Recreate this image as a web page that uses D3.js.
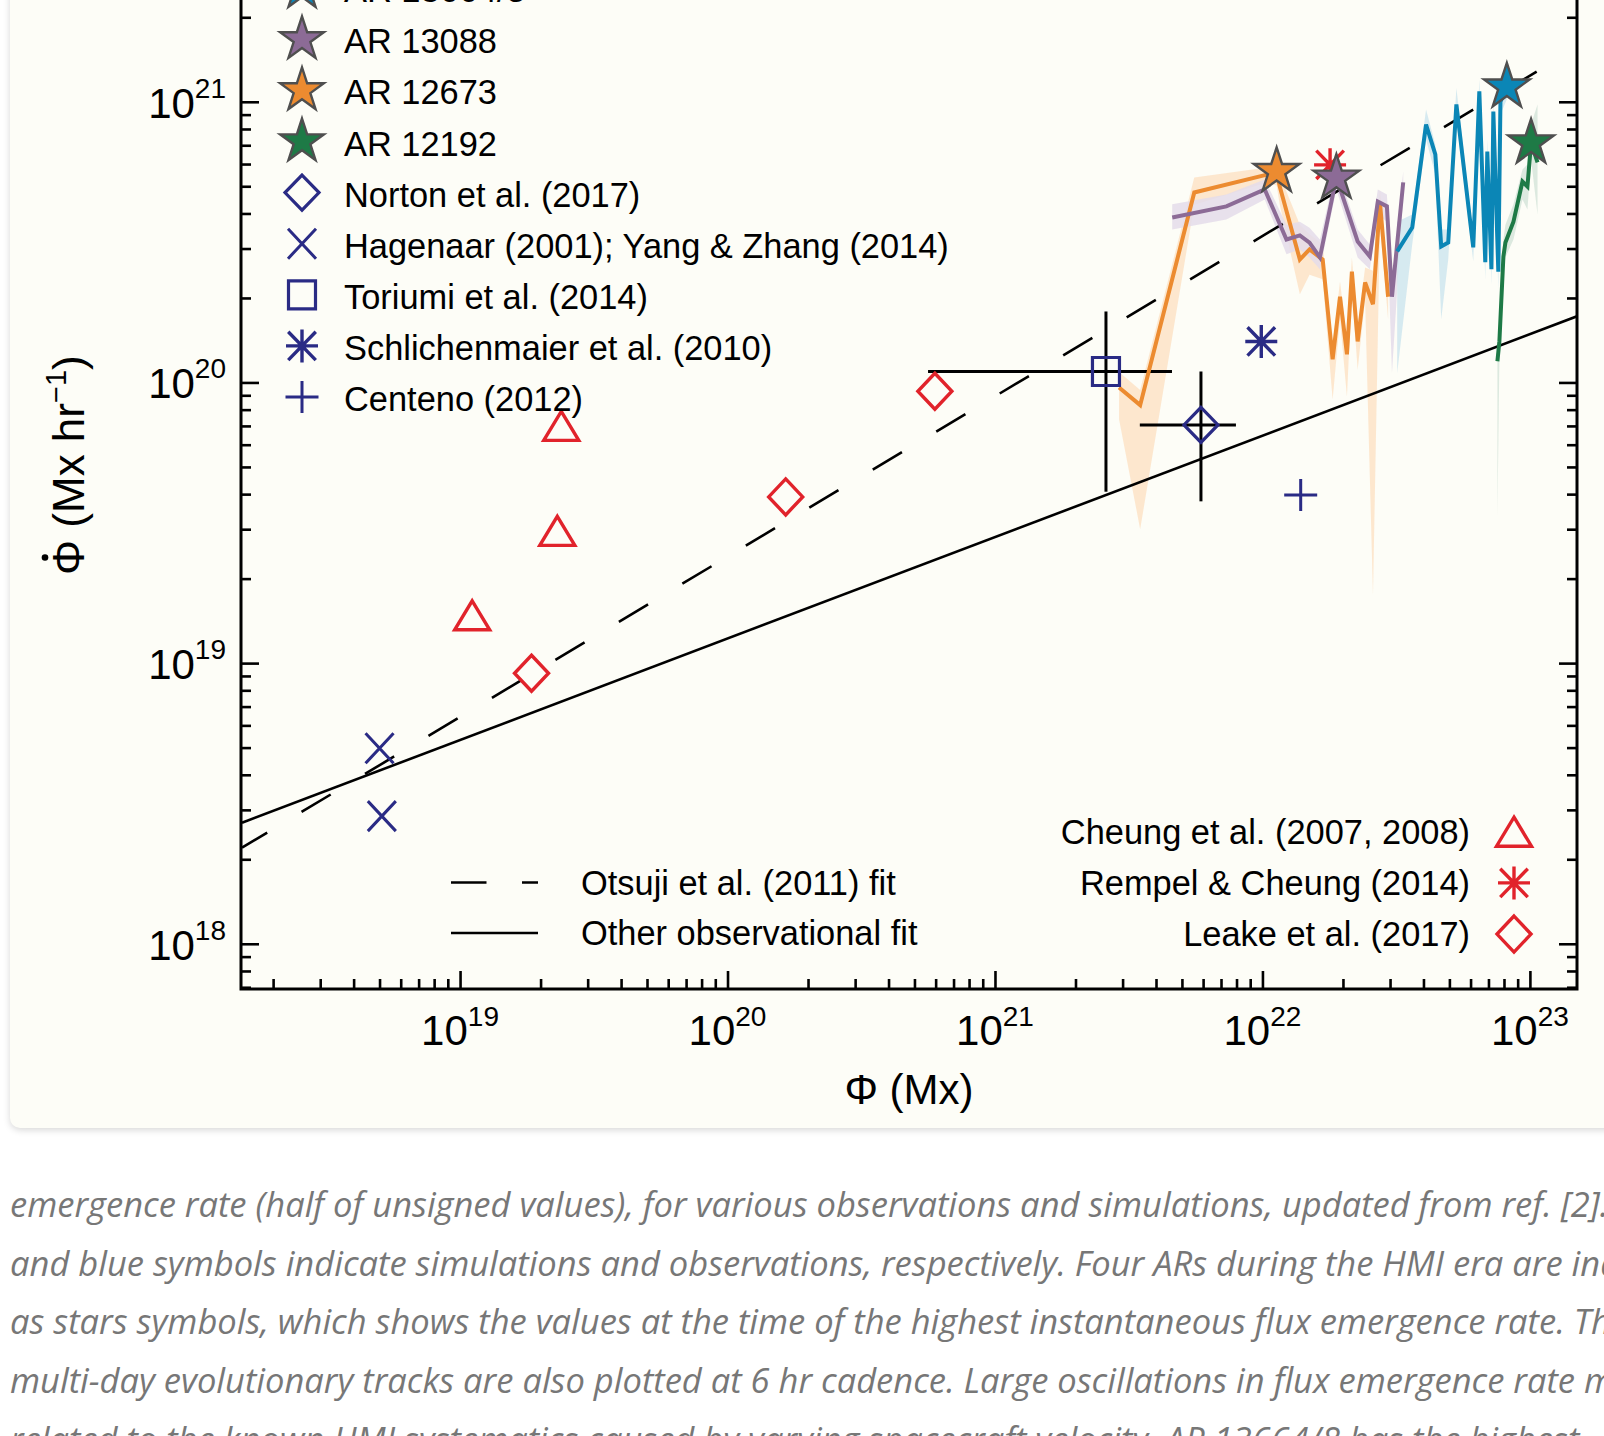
<!DOCTYPE html>
<html>
<head>
<meta charset="utf-8">
<script src="https://cdnjs.cloudflare.com/ajax/libs/d3/7.8.5/d3.min.js"></script>
<style>
  html, body { margin: 0; padding: 0; background: #ffffff; }
  body { width: 1604px; height: 1436px; overflow: hidden; position: relative; }
  #card { position: absolute; left: 10px; top: -60px; width: 1700px; height: 1188px;
          background: #fdfdf7; border-radius: 10px; box-shadow: 0 2px 7px rgba(0,0,0,0.16); }
  #chart { position: absolute; left: 0; top: 0; }
</style>
</head>
<body>
<div id="card"></div>
<svg id="chart" width="1604" height="1436"></svg>
<script>
// ---- tick labels ----
const xMajor = [1e19, 1e20, 1e21, 1e22, 1e23];
const xExp = ["19", "20", "21", "22", "23"];
const yMajor = [1e18, 1e19, 1e20, 1e21];
const yExp = ["18", "19", "20", "21"];

// ---- single symbols (flux in Mx, rate in Mx/hr) ----
const hagenaarPhi = [5.0e18, 5.1e18];
const hagenaarRate = [4.97e18, 2.85e18];
const cheungPhi = [2.39e19, 2.31e19, 1.11e19];
const cheungRate = [7.0e19, 2.96e19, 1.48e19];
const leakePhi = [1.85e19, 1.65e20, 5.96e20];
const leakeRate = [9.2e18, 3.91e19, 9.3e19];
const rempelPhi = [1.79e22];
const rempelRate = [5.96e20];
const schlichPhi = [9.9e21];
const schlichRate = [1.40e20];
const centenoPhi = [1.39e22];
const centenoRate = [3.97e19];
// value, low, high
const toriumiPhi = [2.60e21, 5.62e20, 4.59e21];
const toriumiRate = [1.094e20, 4.08e19, 1.79e20];
const nortonPhi = [5.89e21, 3.48e21, 7.96e21];
const nortonRate = [7.06e19, 3.77e19, 1.094e20];

// ---- fits (end points) ----
const otsujiPhi = [1.53e18, 1.06e23];
const otsujiRate = [2.20e18, 1.28e21];
const otherPhi = [1.53e18, 1.50e23];
const otherRate = [2.70e18, 1.72e20];

// ---- HMI active regions ----
const arNames = ["AR 13664/8", "AR 13088", "AR 12673", "AR 12192"];
const arColors = ["#0b86b6", "#8c6b96", "#ec8b30", "#1e7a46"];
const arBands = ["#cfe6ef", "#e4dcea", "#fde3c7", "#d6e5da"];
const arPeakPhi = [8.20e22, 1.89e22, 1.13e22, 1.01e23];
const arPeakRate = [1.13e21, 5.35e20, 5.65e20, 7.14e20];

// AR 13664/8 track
const t13664Phi = [3.19e22, 3.63e22, 4.09e22, 4.43e22, 4.66e22, 4.95e22, 5.31e22, 6.14e22, 6.47e22, 6.81e22, 6.93e22, 7.18e22, 7.30e22, 7.62e22, 7.76e22, 8.20e22];
const t13664Rate = [2.93e20, 3.56e20, 8.30e20, 6.49e20, 3.05e20, 3.15e20, 9.78e20, 3.03e20, 1.09e21, 2.68e20, 6.65e20, 2.53e20, 9.23e20, 2.48e20, 1.00e21, 1.13e21];
const t13664Hi = [3.74e20, 3.97e20, 9.39e20, 7.04e20, 3.51e20, 3.51e20, 1.12e21, 3.37e20, 1.20e21, 3.10e20, 7.34e20, 2.86e20, 1.02e21, 2.79e20, 1.12e21, 1.22e21];
const t13664Lo = [1.08e20, 3.10e20, 7.34e20, 5.51e20, 1.68e20, 2.74e20, 8.65e20, 2.70e20, 9.39e20, 2.33e20, 5.98e20, 2.23e20, 8.30e20, 2.14e20, 9.01e20, 1.02e21];

// AR 13088 track
const t13088Phi = [4.60e21, 7.33e21, 1.02e22, 1.23e22, 1.38e22, 1.50e22, 1.64e22, 1.89e22, 2.27e22, 2.52e22, 2.70e22, 2.92e22, 3.05e22, 3.36e22];
const t13088Rate = [3.87e20, 4.24e20, 4.87e20, 3.23e20, 3.34e20, 3.15e20, 2.79e20, 5.37e20, 3.18e20, 2.81e20, 4.41e20, 4.24e20, 2.02e20, 5.16e20];
const t13088Hi = [4.31e20, 4.67e20, 5.29e20, 3.65e20, 3.74e20, 3.56e20, 3.23e20, 5.83e20, 3.51e20, 3.10e20, 4.87e20, 4.67e20, 2.23e20, 5.64e20];
const t13088Lo = [3.51e20, 3.81e20, 4.49e20, 2.86e20, 2.98e20, 2.79e20, 2.53e20, 4.87e20, 2.79e20, 2.53e20, 3.97e20, 3.74e20, 1.08e20, 4.67e20];

// AR 12673 track
const t12673Phi = [2.91e21, 3.49e21, 5.56e21, 1.04e22, 1.13e22, 1.16e22, 1.38e22, 1.50e22, 1.68e22, 1.83e22, 1.95e22, 2.07e22, 2.16e22, 2.27e22, 2.42e22, 2.59e22, 2.75e22, 2.95e22];
const t12673Rate = [9.6e19, 8.3e19, 4.75e20, 5.5e20, 5.6e20, 5.0e20, 2.74e20, 2.98e20, 2.74e20, 1.21e20, 2.02e20, 1.26e20, 2.48e20, 1.40e20, 2.27e20, 1.90e20, 4.38e20, 2.02e20];
const t12673Hi = [1.09e20, 9.4e19, 5.37e20, 5.83e20, 6.1e20, 5.5e20, 3.65e20, 3.37e20, 3.10e20, 1.36e20, 2.29e20, 1.42e20, 2.79e20, 1.57e20, 2.57e20, 2.5e20, 4.87e20, 2.33e20];
const t12673Lo = [7.4e19, 3.0e19, 4.3e20, 5.16e20, 5.03e20, 4.31e20, 2.06e20, 2.42e20, 2.33e20, 8.7e19, 1.68e20, 8.9e19, 2.14e20, 1.11e20, 1.97e20, 1.75e19, 3.65e20, 1.68e20];

// AR 12192 track
const t12192Phi = [7.56e22, 7.69e22, 7.96e22, 8.10e22, 8.68e22, 9.38e22, 9.79e22, 1.01e23, 1.068e23];
const t12192Rate = [1.19e20, 1.40e20, 2.81e20, 3.15e20, 3.74e20, 5.20e20, 4.99e20, 7.14e20, 6.08e20];
const t12192Hi = [1.36e20, 1.54e20, 3.23e20, 3.65e20, 4.31e20, 5.74e20, 5.98e20, 8.30e20, 9.78e20];
const t12192Lo = [3.33e19, 1.21e20, 2.48e20, 2.79e20, 3.23e20, 4.49e20, 4.13e20, 6.23e20, 3.97e20];

// ---- legends and caption ----
const legendLabels = ["AR 13664/8", "AR 13088", "AR 12673", "AR 12192", "Norton et al. (2017)",
  "Hagenaar (2001); Yang & Zhang (2014)", "Toriumi et al. (2014)", "Schlichenmaier et al. (2010)", "Centeno (2012)"];
const legendKinds = ["star0", "star1", "star2", "star3", "diamondB", "crossB", "squareB", "asteriskB", "plusB"];
const simLabels = ["Cheung et al. (2007, 2008)", "Rempel & Cheung (2014)", "Leake et al. (2017)"];
const simKinds = ["triR", "asteriskR", "diamondR"];
const fitLabels = ["Otsuji et al. (2011) fit", "Other observational fit"];
const captionLines = [
  "emergence rate (half of unsigned values), for various observations and simulations, updated from ref. [2]. Red",
  "and blue symbols indicate simulations and observations, respectively. Four ARs during the HMI era are indicated",
  "as stars symbols, which shows the values at the time of the highest instantaneous flux emergence rate. The",
  "multi-day evolutionary tracks are also plotted at 6 hr cadence. Large oscillations in flux emergence rate may",
  "related to the known HMI systematics caused by varying spacecraft velocity. AR 13664/8 has the highest"
];

const NAVY = "#2a2b85", RED = "#e1232b";
const FONT = "'Liberation Sans', Arial, Helvetica, sans-serif";
const LEG_FS = 34.4;

const svg = d3.select("#chart");
const pLeft = 241, pRight = 1577, pTop = -40, pBottom = 989;

const x = d3.scaleLog().domain([1.517e18, 1.50e23]).range([pLeft, pRight]);
const y = d3.scaleLog().domain([6.90e17, 3.2e21]).range([pBottom, pTop]);

svg.append("clipPath").attr("id", "plot")
  .append("rect").attr("x", pLeft).attr("y", pTop).attr("width", pRight - pLeft).attr("height", pBottom - pTop);

const plot = svg.append("g").attr("clip-path", "url(#plot)");

// symbol shapes
function triPath(w, h) { return `M0,${-h/2}L${w/2},${h/2}L${-w/2},${h/2}Z`; }
function diamondPath(w, h) { return `M0,${-h/2}L${w/2},0L0,${h/2}L${-w/2},0Z`; }
function crossPath(w, h) { return `M${-w/2},${-h/2}L${w/2},${h/2}M${w/2},${-h/2}L${-w/2},${h/2}`; }
function plusPath(w, h) { return `M${-w/2},0H${w/2}M0,${-h/2}V${h/2}`; }
function squarePath(w, h) { return `M${-w/2},${-h/2}H${w/2}V${h/2}H${-w/2}Z`; }
function asteriskPath(w, h) { return plusPath(w, h) + crossPath(w * 0.86, h * 0.86); }

function drawSymbol(g, kind, cx, cy, big) {
  let p, stroke, fill = "none", sw = 3.2;
  if (kind.startsWith("star")) {
    const i = +kind.slice(4);
    const R = big ? 24 : 23;
    p = d3.symbol(d3.symbolStar).size(R * R / 0.8908130915292852)();
    fill = arColors[i]; stroke = "#4f4f4f"; sw = 2.4;
  }
  else if (kind === "diamondB") { p = diamondPath(34, 35); stroke = NAVY; }
  else if (kind === "crossB") { p = crossPath(28, 30); stroke = NAVY; sw = 3; }
  else if (kind === "squareB") { p = squarePath(27, 28); stroke = NAVY; }
  else if (kind === "asteriskB") { p = asteriskPath(32, 33); stroke = NAVY; sw = 3.4; }
  else if (kind === "plusB") { p = plusPath(33, 32); stroke = NAVY; sw = 3; }
  else if (kind === "triR") { p = triPath(35, 29); stroke = RED; sw = 3.4; }
  else if (kind === "asteriskR") { p = asteriskPath(32, 33); stroke = RED; sw = 3.4; }
  else if (kind === "diamondR") { p = diamondPath(34, 36); stroke = RED; sw = 3.4; }
  g.append("path").attr("d", p).attr("transform", `translate(${cx},${cy})`)
    .attr("fill", fill).attr("stroke", stroke).attr("stroke-width", sw)
    .attr("stroke-linejoin", "miter");
}

// ---- shaded bands and tracks ----
const tracks = [
  { phi: t12673Phi, rate: t12673Rate, lo: t12673Lo, hi: t12673Hi, c: 2 },
  { phi: t13088Phi, rate: t13088Rate, lo: t13088Lo, hi: t13088Hi, c: 1 },
  { phi: t13664Phi, rate: t13664Rate, lo: t13664Lo, hi: t13664Hi, c: 0 },
  { phi: t12192Phi, rate: t12192Rate, lo: t12192Lo, hi: t12192Hi, c: 3 }
];
const area = d3.area().x(d => x(d[0])).y0(d => y(d[1])).y1(d => y(d[2]));
const line = d3.line().x(d => x(d[0])).y(d => y(d[1]));

tracks.forEach(t => {
  const pts = t.phi.map((p, i) => [p, t.lo[i], t.hi[i]]);
  plot.append("path").attr("d", area(pts)).attr("fill", arBands[t.c]).attr("opacity", 0.85);
});

// fits (dashed one drawn from its upper end so a dash reaches the top)
plot.append("path").attr("d", line(otsujiPhi.map((p, i) => [p, otsujiRate[i]]).reverse()))
  .attr("fill", "none").attr("stroke", "#000").attr("stroke-width", 2.6).attr("stroke-dasharray", "34 40");
plot.append("path").attr("d", line(otherPhi.map((p, i) => [p, otherRate[i]])))
  .attr("fill", "none").attr("stroke", "#000").attr("stroke-width", 2.6);

// error bars
[[toriumiPhi, toriumiRate], [nortonPhi, nortonRate]].forEach(([ph, rt]) => {
  plot.append("line").attr("x1", x(ph[1])).attr("x2", x(ph[2])).attr("y1", y(rt[0])).attr("y2", y(rt[0]))
    .attr("stroke", "#000").attr("stroke-width", 3);
  plot.append("line").attr("x1", x(ph[0])).attr("x2", x(ph[0])).attr("y1", y(rt[1])).attr("y2", y(rt[2]))
    .attr("stroke", "#000").attr("stroke-width", 3);
});

tracks.forEach(t => {
  const pts = t.phi.map((p, i) => [p, t.rate[i]]);
  plot.append("path").attr("d", line(pts)).attr("fill", "none")
    .attr("stroke", arColors[t.c]).attr("stroke-width", 4).attr("stroke-linejoin", "miter");
});

// symbols
const marks = plot.append("g");
hagenaarPhi.forEach((p, i) => drawSymbol(marks, "crossB", x(p), y(hagenaarRate[i])));
cheungPhi.forEach((p, i) => drawSymbol(marks, "triR", x(p), y(cheungRate[i])));
leakePhi.forEach((p, i) => drawSymbol(marks, "diamondR", x(p), y(leakeRate[i])));
rempelPhi.forEach((p, i) => drawSymbol(marks, "asteriskR", x(p), y(rempelRate[i])));
schlichPhi.forEach((p, i) => drawSymbol(marks, "asteriskB", x(p), y(schlichRate[i])));
centenoPhi.forEach((p, i) => drawSymbol(marks, "plusB", x(p), y(centenoRate[i])));
drawSymbol(marks, "squareB", x(toriumiPhi[0]), y(toriumiRate[0]));
drawSymbol(marks, "diamondB", x(nortonPhi[0]), y(nortonRate[0]));
[2, 1, 0, 3].forEach(i => drawSymbol(marks, "star" + i, x(arPeakPhi[i]), y(arPeakRate[i]), true));

// ---- frame and ticks ----
const isMajor = d => Math.abs(Math.log10(d) - Math.round(Math.log10(d))) < 1e-6;
const xMinor = x.ticks().filter(d => !isMajor(d));
const yMinor = y.ticks().filter(d => !isMajor(d));

function styleAxis(g) {
  g.select(".domain").remove();
  g.selectAll(".tick line").attr("stroke", "#000").attr("stroke-width", 2.6);
  g.selectAll(".tick text").remove();
}
svg.append("g").attr("transform", `translate(0,${pBottom})`)
  .call(d3.axisTop(x).tickValues(xMinor).tickSize(10).tickFormat("")).call(styleAxis);
svg.append("g").attr("transform", `translate(0,${pBottom})`)
  .call(d3.axisTop(x).tickValues(xMajor).tickSize(18).tickFormat("")).call(styleAxis);
svg.append("g").attr("transform", `translate(${pLeft},0)`)
  .call(d3.axisRight(y).tickValues(yMinor).tickSize(10).tickFormat("")).call(styleAxis);
svg.append("g").attr("transform", `translate(${pLeft},0)`)
  .call(d3.axisRight(y).tickValues(yMajor).tickSize(18).tickFormat("")).call(styleAxis);
svg.append("g").attr("transform", `translate(${pRight},0)`)
  .call(d3.axisLeft(y).tickValues(yMinor).tickSize(10).tickFormat("")).call(styleAxis);
svg.append("g").attr("transform", `translate(${pRight},0)`)
  .call(d3.axisLeft(y).tickValues(yMajor).tickSize(18).tickFormat("")).call(styleAxis);

svg.append("rect").attr("x", pLeft).attr("y", pTop).attr("width", pRight - pLeft).attr("height", pBottom - pTop)
  .attr("fill", "none").attr("stroke", "#000").attr("stroke-width", 3);

// tick labels
svg.append("g").selectAll("text").data(xMajor).join("text")
  .attr("x", d => x(d)).attr("y", 1045).attr("text-anchor", "middle")
  .attr("font-family", FONT).attr("font-size", 42).attr("fill", "#000")
  .each(function (d, i) {
    const t = d3.select(this);
    t.append("tspan").text("10");
    t.append("tspan").attr("dy", -19).attr("font-size", 28).text(xExp[i]);
  });
svg.append("g").selectAll("text").data(yMajor).join("text")
  .attr("x", 226).attr("y", d => y(d) + 16).attr("text-anchor", "end")
  .attr("font-family", FONT).attr("font-size", 42).attr("fill", "#000")
  .each(function (d, i) {
    const t = d3.select(this);
    t.append("tspan").text("10");
    t.append("tspan").attr("dy", -20).attr("font-size", 28).text(yExp[i]);
  });

// axis titles
svg.append("text").attr("x", 909).attr("y", 1104).attr("text-anchor", "middle")
  .attr("font-family", FONT).attr("font-size", 42).text("\u03A6 (Mx)");

const yt = svg.append("g").attr("transform", "translate(84,575) rotate(-90)");
const ytText = yt.append("text").attr("x", 0).attr("y", 0)
  .attr("font-family", FONT).attr("font-size", 44);
ytText.append("tspan").text("\u03A6 (Mx hr");
ytText.append("tspan").attr("dy", -18).attr("font-size", 29).text("\u22121");
ytText.append("tspan").attr("dy", 18).text(")");
const phiW = ytText.node().getSubStringLength(0, 1);
yt.append("circle").attr("cx", phiW / 2).attr("cy", -39).attr("r", 3.3).attr("fill", "#000");

// ---- legends ----
const leg = svg.append("g");
legendLabels.forEach((lab, i) => {
  const cy = -11.8 + 51.1 * i;
  drawSymbol(leg, legendKinds[i], 302, cy, false);
  leg.append("text").attr("x", 344).attr("y", cy + 14).attr("font-family", FONT)
    .attr("font-size", LEG_FS).text(lab);
});
simLabels.forEach((lab, i) => {
  const cy = 831.7 + 51.2 * i;
  drawSymbol(leg, simKinds[i], 1514, cy, false);
  leg.append("text").attr("x", 1470).attr("y", cy + 12).attr("text-anchor", "end")
    .attr("font-family", FONT).attr("font-size", LEG_FS).text(lab);
});
fitLabels.forEach((lab, i) => {
  const cy = 882.5 + 50.5 * i;
  leg.append("line").attr("x1", 451).attr("x2", 538).attr("y1", cy).attr("y2", cy)
    .attr("stroke", "#000").attr("stroke-width", 2.6)
    .attr("stroke-dasharray", i === 0 ? "35.5 35.5" : null);
  leg.append("text").attr("x", 581).attr("y", cy + 12).attr("font-family", FONT)
    .attr("font-size", LEG_FS).text(lab);
});

// ---- caption ----
svg.append("g").selectAll("text").data(captionLines).join("text")
  .attr("x", 10).attr("y", (d, i) => 1216.7 + 58.8 * i)
  .attr("font-family", "'Open Sans', sans-serif").attr("font-style", "italic")
  .attr("font-size", 34.5).attr("fill", "#777777")
  .text(d => d);
</script>
</body>
</html>
